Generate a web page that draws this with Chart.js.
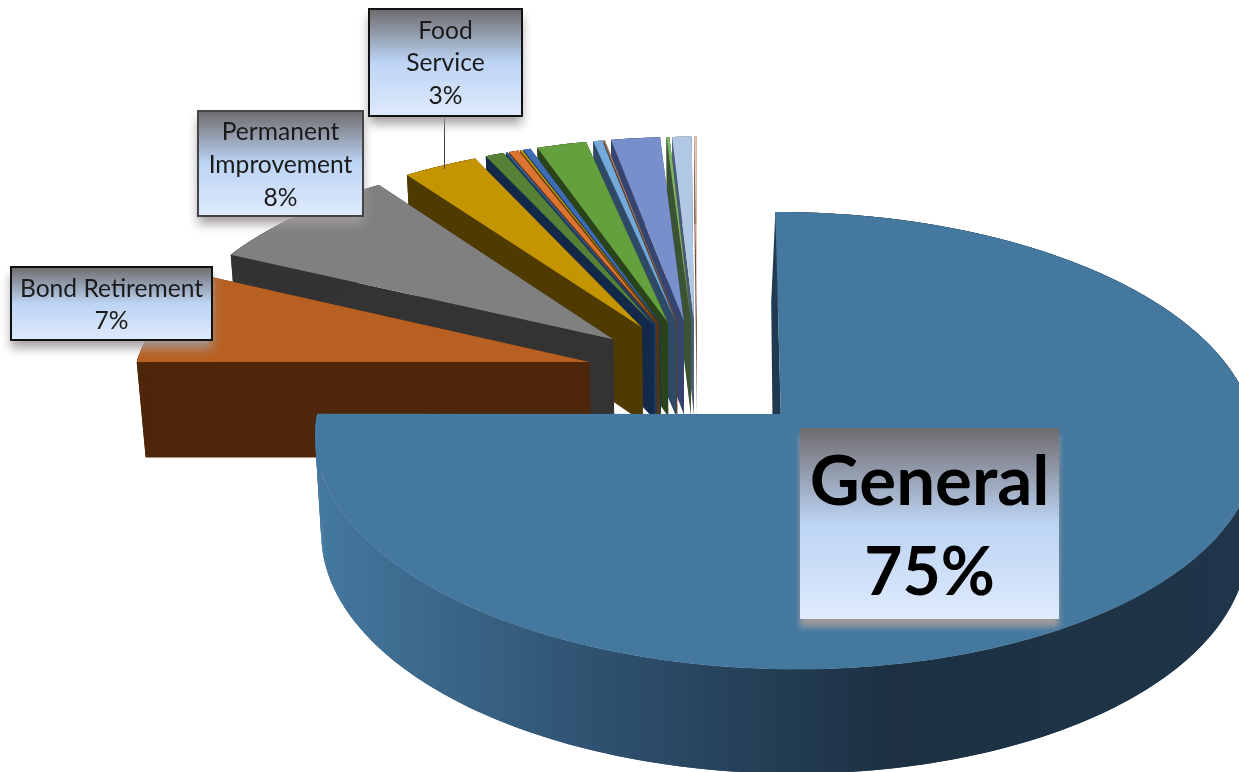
<!DOCTYPE html>
<html>
<head>
<meta charset="utf-8">
<style>
html,body{margin:0;padding:0;background:#fff;overflow:hidden}
canvas{display:block}
</style>
<script src="https://cdn.jsdelivr.net/npm/chart.js@4"></script>
</head>
<body>
<canvas id="funds" width="1239" height="772"></canvas>
<script>
// Share of spending by fund, in percent, clockwise from twelve o'clock
const categories = ['General','Bond Retirement','Permanent Improvement','Food Service',
  'Fund E','Fund F','Fund G','Fund H','Fund I','Fund J','Fund K','Fund L','Fund M','Fund N','Fund O','Fund P'];
const shares = [75,7,8,3,0.75,0.07,0.4,0.09,0.3,2.0,0.36,0.06,1.97,0.12,0.78,0.1];
const faceColors = ['#44789f','#b86021','#808080','#c49500','#568235','#3e6fa8','#dd7430','#c49a00',
  '#3d6cb5','#65a03f','#74a9dc','#a98070','#7790cc','#7fb566','#b0c8e4','#e5c9bc'];
const wallColors = ['#1f3a50','#4e2609','#333333','#4f3b00','#14284a','#1f3a5c','#5c3015','#4f3b00',
  '#1c335c','#2b4319','#2f4a66','#5a4030','#36456f','#3b5332','#4a5a70','#6b4a3c'];
const shortLines = {1:['Bond Retirement'],2:['Permanent','Improvement'],3:['Food','Service'],0:['General']};

// Camera used to lay the pie on its side; the front slice has its own small adjustments
const view = {cx:697.2, cy:374, ry:216, perspV:0.114, depth:96, depthSlope:7, taper:0.016, liftY:1.05};
const backSlices = {rx:455.5, perspU:0, lean:0, shiftX:0, leanFrom:0.18};
const frontSlice = {rx:456.4, perspU:0.008, lean:3, shiftX:3, leanFrom:0.18};

// Callout boxes, indexed by slice
const callouts = [
  {slice:0, x:800, y:428, w:259, h:191, font:'bold 69px Lato', lastFont:'bold 66px Lato', lineY:[483,574], border:null, blur:6},
  {slice:1, x:11,  y:267, w:201, h:73,  font:'24.6px Lato', lineY:[289,321], border:'#111', blur:10},
  {slice:2, x:198, y:111, w:165, h:105, font:'24.6px Lato', lineY:[132,165,198], border:'#444', blur:10},
  {slice:3, x:369, y:9,   w:153, h:107, font:'24.6px Lato', lineY:[31,63,96], border:'#111', blur:10}
];

function project(u, v, z, cam) {
  const w = 1 - view.perspV * v - cam.perspU * u;
  const s = 1 - z * view.taper;
  const shear = cam.lean * Math.max(0, cam.leanFrom - v);
  return [view.cx + cam.shiftX + cam.rx * u * s / w + shear,
          view.cy + view.ry * v / w + z * (view.depth + view.depthSlope * v)];
}

function sliceOutline(arc) {
  const p = arc.getProps(['startAngle','endAngle','outerRadius']);
  const mid = (p.startAngle + p.endAngle) / 2;
  const e = arc.options.offset / p.outerRadius;
  const ax = e * Math.cos(mid), ay = e * Math.sin(mid) * view.liftY;
  const n = Math.max(2, Math.ceil((p.endAngle - p.startAngle) / 0.01));
  const rim = [];
  for (let i = 0; i <= n; i++) {
    const t = p.startAngle + (p.endAngle - p.startAngle) * i / n;
    rim.push([ax + Math.cos(t), ay + Math.sin(t)]);
  }
  return {apex:[ax, ay], rim};
}

function fillPoly(ctx, pts, fill) {
  ctx.beginPath();
  pts.forEach((q, i) => i ? ctx.lineTo(q[0], q[1]) : ctx.moveTo(q[0], q[1]));
  ctx.closePath();
  ctx.fillStyle = fill;
  ctx.fill();
}

function drawSlice(ctx, arc, index) {
  const {apex, rim} = sliceOutline(arc);
  const wall = wallColors[index];
  const cam = index === 0 ? frontSlice : backSlices;
  const top = (q) => project(q[0], q[1], 0, cam);
  const low = (q) => project(q[0], q[1], 1, cam);
  const first = rim[0], last = rim[rim.length - 1];
  // radial walls; the large slice's nine o'clock face looks away from the viewer
  if (index !== 0) fillPoly(ctx, [top(apex), top(last), low(last), low(apex)], wall);
  let lowFirst = low(first), lowApex = low(apex);
  if (index === 0) {
    // the cut face at twelve o'clock shows as a dark strip that widens toward the centre
    lowFirst = [lowFirst[0] - 3, lowFirst[1]];
    lowApex = [lowApex[0] - 6, lowApex[1]];
  }
  fillPoly(ctx, [top(apex), top(first), lowFirst, lowApex], wall);
  // rim wall, overlapping quads so the fold at the silhouette stays filled
  let rimFill = wall;
  if (index === 0) {
    const g = ctx.createLinearGradient(315, 0, 1239, 0);
    g.addColorStop(0, '#44789f');
    g.addColorStop(0.3, '#2f5270');
    g.addColorStop(0.62, '#1c3042');
    g.addColorStop(1, '#1f3549');
    rimFill = g;
  }
  for (let i = 0; i < rim.length - 1; i++) {
    const a = rim[i], b = rim[Math.min(i + 2, rim.length - 1)];
    fillPoly(ctx, [top(a), top(b), low(b), low(a)], rimFill);
  }
  // top face
  fillPoly(ctx, [top(apex)].concat(rim.map(top)), arc.options.backgroundColor);
}

function drawCallout(ctx, c) {
  const pct = Math.round(shares[c.slice]) + '%';
  const lines = shortLines[c.slice].concat([pct]);
  ctx.save();
  ctx.shadowColor = 'rgba(160,155,155,0.95)';
  ctx.shadowBlur = c.blur;
  ctx.shadowOffsetY = 8;
  ctx.fillStyle = '#dce9fb';
  ctx.fillRect(c.x, c.y, c.w, c.h);
  ctx.restore();
  const g = ctx.createLinearGradient(0, c.y, 0, c.y + c.h);
  g.addColorStop(0, '#6f6b6e');
  g.addColorStop(0.5, '#bcd4f4');
  g.addColorStop(1, '#dfeafc');
  ctx.fillStyle = g;
  ctx.fillRect(c.x, c.y, c.w, c.h);
  if (c.border) {
    ctx.strokeStyle = c.border;
    ctx.lineWidth = 2;
    ctx.strokeRect(c.x, c.y, c.w, c.h);
  }
  ctx.fillStyle = c.border ? '#1a1a1a' : '#000';
  ctx.textAlign = 'center';
  ctx.textBaseline = 'middle';
  lines.forEach((t, i) => {
    ctx.font = (i === lines.length - 1 && c.lastFont) ? c.lastFont : c.font;
    ctx.fillText(t, c.x + c.w / 2, c.lineY[i]);
  });
}

const perspectivePie = {
  id: 'perspectivePie',
  beforeDatasetsDraw(chart) {
    const ctx = chart.ctx;
    const arcs = chart.getDatasetMeta(0).data;
    ctx.save();
    // far slices first, the large front slice last
    for (let i = arcs.length - 1; i >= 0; i--) drawSlice(ctx, arcs[i], i);
    // leader line of the Food Service callout
    ctx.strokeStyle = '#444';
    ctx.lineWidth = 1;
    ctx.beginPath();
    ctx.moveTo(444.5, 116);
    ctx.lineTo(444.5, 169);
    ctx.stroke();
    callouts.slice().reverse().forEach(c => drawCallout(ctx, c));
    ctx.restore();
    return false;
  }
};

new Chart(document.getElementById('funds'), {
  type: 'pie',
  data: {
    labels: categories,
    datasets: [{data: shares, backgroundColor: faceColors, borderWidth: 0, offset: 84, hoverOffset: 0}]
  },
  options: {
    responsive: false,
    animation: false,
    events: [],
    plugins: {legend: {display: false}, tooltip: {enabled: false}}
  },
  plugins: [perspectivePie]
});
</script>
</body>
</html>
